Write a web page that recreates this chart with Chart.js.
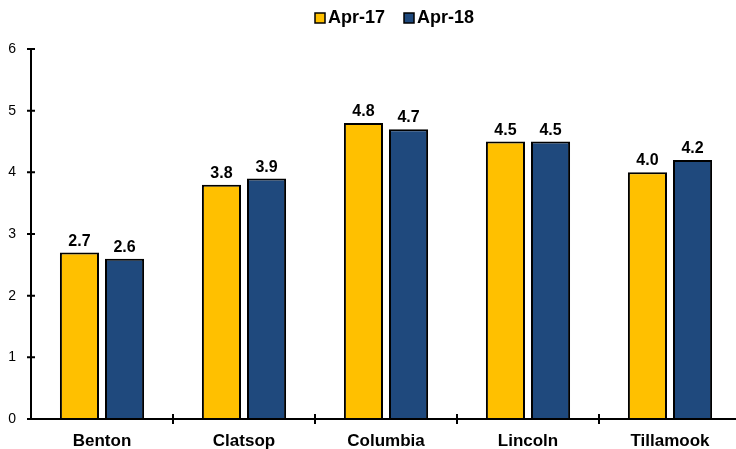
<!DOCTYPE html>
<html>
<head>
<meta charset="utf-8">
<script src="https://cdn.jsdelivr.net/npm/chart.js@4"></script>
<style>
  html, body { margin: 0; padding: 0; background: #fff; overflow: hidden; }
  #wrap { width: 736px; height: 449px; overflow: hidden; }
  #wrap div { width: 741px; height: 449px; position: relative; }
</style>
</head>
<body>
<div id="wrap"><div><canvas id="chartCondados"></canvas></div></div>
<script>
const condados = ['Benton', 'Clatsop', 'Columbia', 'Lincoln', 'Tillamook'];
const abr17 = [2.7, 3.8, 4.8, 4.5, 4.0];
const abr18 = [2.6, 3.9, 4.7, 4.5, 4.2];
const series = ['Apr-17', 'Apr-18'];
const colores = ['#FFC000', '#1F497D'];

const fuente = 'Arial, "Liberation Sans", sans-serif';

// valores encima de cada barra
const etiquetas = {
    id: 'etiquetas',
    afterDatasetsDraw(chart) {
        const ctx = chart.ctx;
        ctx.save();
        ctx.font = 'bold 16px ' + fuente;
        ctx.fillStyle = '#000';
        ctx.textAlign = 'center';
        ctx.textBaseline = 'alphabetic';
        chart.data.datasets.forEach((ds, i) => {
            chart.getDatasetMeta(i).data.forEach((bar, j) => {
                ctx.fillText(ds.data[j].toFixed(1), bar.x, bar.y - 7);
            });
        });
        ctx.restore();
    }
};

// leyenda arriba
const leyenda = {
    id: 'leyenda',
    afterDraw(chart) {
        const ctx = chart.ctx;
        ctx.save();
        ctx.font = 'bold 18px ' + fuente;
        ctx.textBaseline = 'middle';
        ctx.textAlign = 'left';
        const caja = 10, sep = 2, entre = 19;
        let x = 315;
        const y = 18;
        series.forEach((s, i) => {
            ctx.fillStyle = colores[i];
            ctx.fillRect(x, y - caja / 2, caja, caja);
            ctx.strokeStyle = '#000';
            ctx.lineWidth = 1.5;
            ctx.strokeRect(x, y - caja / 2, caja, caja);
            ctx.fillStyle = '#000';
            ctx.fillText(s, x + caja + sep + 1, y);
            x += caja + sep + 1 + ctx.measureText(s).width + entre;
        });
        ctx.restore();
    }
};

// marcas que cruzan los ejes
const marcas = {
    id: 'marcas',
    afterDraw(chart) {
        const ctx = chart.ctx;
        const x = chart.scales.x, y = chart.scales.y;
        ctx.save();
        ctx.strokeStyle = '#000';
        ctx.lineWidth = 2;
        ctx.beginPath();
        ctx.moveTo(x.left, y.top);
        ctx.lineTo(x.left, y.bottom);
        ctx.lineTo(x.right + 2, y.bottom);
        y.ticks.forEach(t => {
            const py = y.getPixelForValue(t.value);
            ctx.moveTo(x.left - 4, py);
            ctx.lineTo(x.left + 4, py);
        });
        for (let i = 1; i <= condados.length; i++) {
            const px = x.left + (x.right - x.left) * i / condados.length;
            ctx.moveTo(px, y.bottom - 5);
            ctx.lineTo(px, y.bottom + 5);
        }
        ctx.stroke();
        ctx.restore();
    }
};

const canvas = document.getElementById('chartCondados');
const context = canvas.getContext('2d');

const chartCondados = new Chart(context, {
    type: 'bar',
    data: {
        labels: condados,
        datasets: [
            { label: series[0], data: abr17, backgroundColor: colores[0] },
            { label: series[1], data: abr18, backgroundColor: colores[1] }
        ]
    },
    options: {
        responsive: true,
        maintainAspectRatio: false,
        animation: false,
        layout: { padding: { top: 49, right: 0, left: 0, bottom: 0 } },
        datasets: {
            bar: {
                categoryPercentage: 0.635,
                barPercentage: 0.867,
                borderColor: '#000',
                borderWidth: 2
            }
        },
        plugins: {
            legend: { display: false },
            tooltip: { enabled: false }
        },
        scales: {
            x: {
                grid: { display: false, drawTicks: false },
                border: { display: false },
                ticks: {
                    color: '#000',
                    padding: 12,
                    font: { family: fuente, size: 17, weight: 'bold' }
                },
                afterFit: s => { s.height = 30; }
            },
            y: {
                min: 0,
                max: 6,
                grid: { display: false, drawTicks: false },
                border: { display: false },
                ticks: {
                    stepSize: 1,
                    color: '#000',
                    padding: 15,
                    font: { family: fuente, size: 14 }
                },
                afterFit: s => { s.width = 31; }
            }
        }
    },
    plugins: [etiquetas, leyenda, marcas]
});
</script>
</body>
</html>
